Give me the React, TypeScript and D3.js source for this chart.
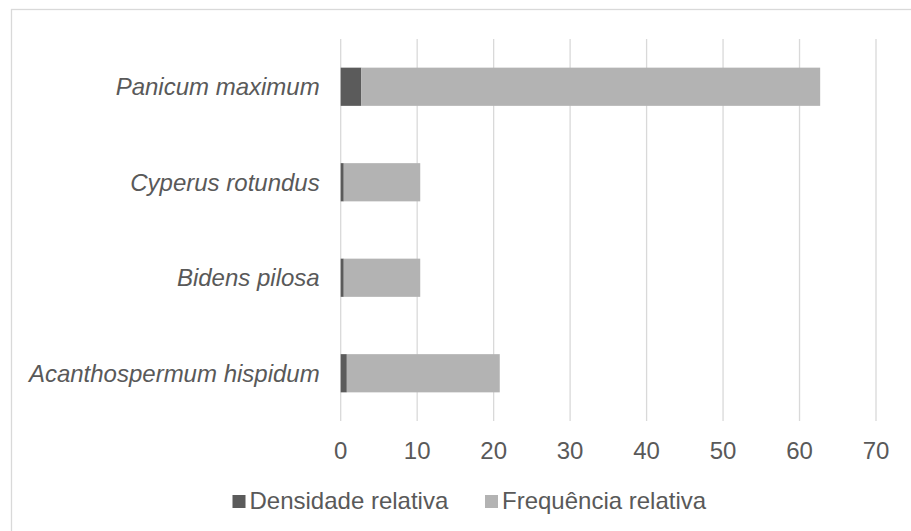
import React from "react";
import * as d3 from "d3";

// Species (top to bottom) and their relative density / frequency values (%)
const species = [
  "Panicum maximum",
  "Cyperus rotundus",
  "Bidens pilosa",
  "Acanthospermum hispidum",
];
const densidadeRelativa = [2.7, 0.4, 0.4, 0.8];
const frequenciaRelativa = [60.0, 10.0, 10.0, 20.0];
const xTicks = [0, 10, 20, 30, 40, 50, 60, 70];
const seriesNames = ["Densidade relativa", "Frequência relativa"];
const seriesColors = ["#5b5b5b", "#b3b3b3"];

const W = 911;
const H = 531;
const FONT = "'Liberation Sans', Arial, sans-serif";
const TEXT = "#595959";
const FS = 24;

export default function App() {
  const x = d3.scaleLinear().domain([0, 70]).range([340.7, 876]);
  const y = d3
    .scaleBand<string>()
    .domain(species)
    .range([39, 421])
    .paddingInner(0.6)
    .paddingOuter(0.3);

  const rows = species.map((s, i) => ({
    s,
    dens: densidadeRelativa[i],
    freq: frequenciaRelativa[i],
  }));
  const stack = d3
    .stack<{ s: string; dens: number; freq: number }>()
    .keys(["dens", "freq"]);
  const layers = stack(rows);

  const [y0, y1] = y.range();

  const legendItems = [
    { x: 232.5, label: seriesNames[0], color: seriesColors[0] },
    { x: 485, label: seriesNames[1], color: seriesColors[1] },
  ];

  return (
    <svg
      width={W}
      height={H}
      style={{ position: "absolute", left: 0, top: 0, background: "#fff" }}
      fontFamily={FONT}
    >
      <rect x={11.5} y={9.5} width={W + 20} height={H + 20} fill="#fff" stroke="#d9d9d9" strokeWidth={1.3} />

      {/* vertical gridlines */}
      {xTicks.map((t) => (
        <line
          key={t}
          x1={x(t)}
          x2={x(t)}
          y1={y0}
          y2={y1}
          stroke="#d9d9d9"
          strokeWidth={1.3}
        />
      ))}

      {/* stacked bars */}
      {layers.map((layer, li) => (
        <g key={layer.key} fill={seriesColors[li]}>
          {layer.map((d, i) => (
            <rect
              key={i}
              x={x(d[0])}
              width={x(d[1]) - x(d[0])}
              y={y(species[i])}
              height={y.bandwidth()}
            />
          ))}
        </g>
      ))}

      {/* category labels */}
      {species.map((s) => (
        <text
          key={s}
          x={x(0) - 21}
          y={(y(s) ?? 0) + y.bandwidth() / 2}
          dy="0.35em"
          textAnchor="end"
          fontSize={FS}
          fontStyle="italic"
          fill={TEXT}
        >
          {s}
        </text>
      ))}

      {/* x tick labels */}
      {xTicks.map((t) => (
        <text
          key={t}
          x={x(t)}
          y={459}
          textAnchor="middle"
          fontSize={FS}
          fill={TEXT}
        >
          {t}
        </text>
      ))}

      {/* legend */}
      {legendItems.map((it) => (
        <g key={it.label}>
          <rect x={it.x} y={495} width={13} height={13} fill={it.color} />
          <text x={it.x + 17} y={508.5} fontSize={FS} fill={TEXT}>
            {it.label}
          </text>
        </g>
      ))}
    </svg>
  );
}
